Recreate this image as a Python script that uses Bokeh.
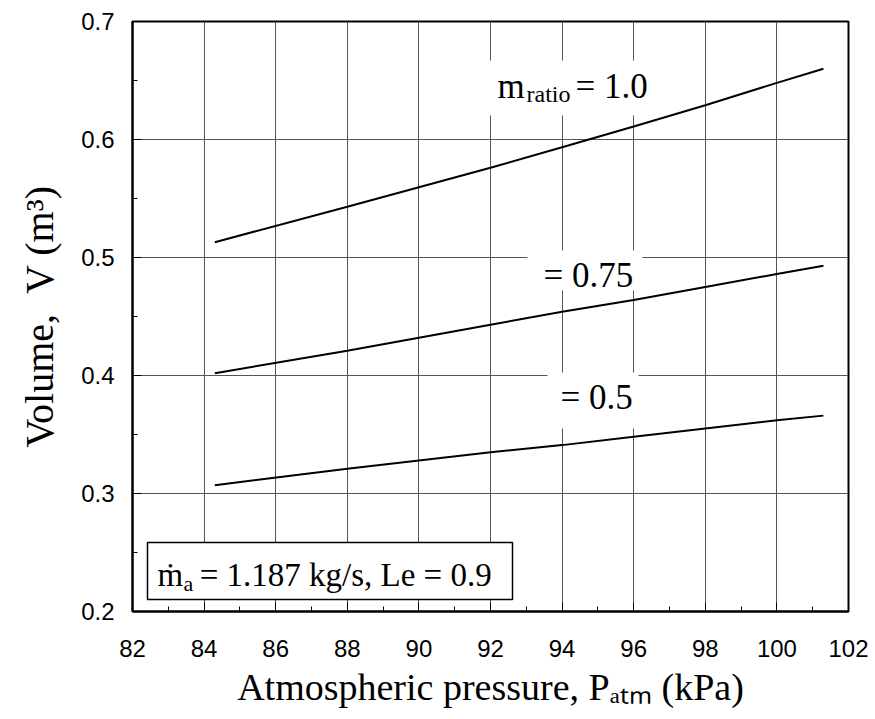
from bokeh.plotting import figure
from bokeh.models import Range1d, FixedTicker, PrintfTickFormatter, Label, BoxAnnotation
from bokeh.embed import file_html
from bokeh.resources import INLINE

# Atmospheric pressure (kPa)
pressure = [84.3, 88.0, 92.0, 94.0, 96.0, 98.0, 100.0, 101.3]
# Required fill volume (m^3) for each mass-flow ratio
vol_ratio_100 = [0.513, 0.543, 0.576, 0.5935, 0.611, 0.629, 0.648, 0.660]
vol_ratio_075 = [0.402, 0.421, 0.443, 0.454, 0.464, 0.475, 0.486, 0.493]
vol_ratio_050 = [0.307, 0.321, 0.335, 0.341, 0.348, 0.355, 0.362, 0.366]

# axis ticks
x_major = [82, 84, 86, 88, 90, 92, 94, 96, 98, 100, 102]
x_minor = [83, 85, 87, 89, 91, 93, 95, 97, 99, 101]
y_major = [0.2, 0.3, 0.4, 0.5, 0.6, 0.7]
y_minor = [0.25, 0.35, 0.45, 0.55, 0.65]

SERIF = "Liberation Serif"
SANS = "Liberation Sans"

# plot geometry (pixels)
W, H = 875, 719
LEFT, RIGHT, TOP, BOTTOM = 132, 27, 21, 108
X0, X1, Y0, Y1 = 82, 102, 0.2, 0.7
FW, FH = W - LEFT - RIGHT, H - TOP - BOTTOM

p = figure(width=W, height=H, output_backend="svg", toolbar_location=None,
           x_range=Range1d(X0, X1), y_range=Range1d(Y0, Y1),
           min_border_left=LEFT, min_border_right=RIGHT,
           min_border_top=TOP, min_border_bottom=BOTTOM)
p.background_fill_color = "white"
p.border_fill_color = "white"
p.outline_line_color = "black"
p.outline_line_width = 2

p.xaxis.ticker = FixedTicker(ticks=x_major, minor_ticks=x_minor)
p.yaxis.ticker = FixedTicker(ticks=y_major, minor_ticks=y_minor)
p.xaxis.formatter = PrintfTickFormatter(format="%d")
p.yaxis.formatter = PrintfTickFormatter(format="%.1f")

for ax in (p.xaxis, p.yaxis):
    ax.axis_line_color = "black"
    ax.axis_line_width = 2
    ax.major_tick_in = 9
    ax.major_tick_out = 0
    ax.minor_tick_in = 5
    ax.minor_tick_out = 0
    ax.major_tick_line_color = "black"
    ax.minor_tick_line_color = "black"
    ax.major_label_text_font = SANS
    ax.major_label_text_font_size = "24px"
    ax.major_label_text_color = "black"
    ax.axis_label_text_font = SERIF
    ax.axis_label_text_font_style = "normal"
    ax.axis_label_text_color = "black"
p.xaxis.major_label_standoff = 28
p.yaxis.major_label_standoff = 18

p.xaxis.axis_label = "Atmospheric pressure, P\u2090\u209c\u2098 (kPa)"
p.xaxis.axis_label_text_font_size = "38px"
p.xaxis.axis_label_standoff = 6
p.yaxis.axis_label = "Volume,\u00a0\u00a0V (m\u00b3)"
p.yaxis.axis_label_text_font_size = "40px"
p.yaxis.axis_label_standoff = 16

p.xgrid.grid_line_color = "#555555"
p.ygrid.grid_line_color = "#555555"
p.xgrid.grid_line_width = 1
p.ygrid.grid_line_width = 1

for series in (vol_ratio_100, vol_ratio_075, vol_ratio_050):
    p.line(pressure, series, line_color="black", line_width=2)


def backing(left, right, top, bottom, border=None):
    """White box given in canvas pixels, converted to data space."""
    box = BoxAnnotation(
        left=X0 + (left - LEFT) / FW * (X1 - X0),
        right=X0 + (right - LEFT) / FW * (X1 - X0),
        top=Y1 - (top - TOP) / FH * (Y1 - Y0),
        bottom=Y1 - (bottom - TOP) / FH * (Y1 - Y0),
        fill_color="white", fill_alpha=1.0,
        line_color=border, line_width=1.5 if border else 0,
        line_alpha=1.0 if border else 0.0)
    p.add_layout(box)


def label(text, x, y, size):
    p.add_layout(Label(x=x, y=y, x_units="screen", y_units="screen", text=text,
                       text_font=SERIF, text_font_size=f"{size}px",
                       text_color="black", text_align="left",
                       text_baseline="middle"))


# curve labels
backing(486, 654, 60, 115)
label("m", 365, 525, 35)
label("ratio", 394, 518, 24)
label("= 1.0", 443, 525, 35)

backing(527, 642, 250, 290)
label("= 0.75", 411, 336, 35)

backing(547, 638, 372, 428)
label("= 0.5", 428, 214, 35)

# operating-condition box
backing(147, 512, 542, 599, border="black")
label("\u1e41\u00a0\u00a0= 1.187 kg/s, Le = 0.9", 25, 37, 33)
label("a", 51, 28, 22)

open("out.html", "w").write(file_html(p, INLINE))
